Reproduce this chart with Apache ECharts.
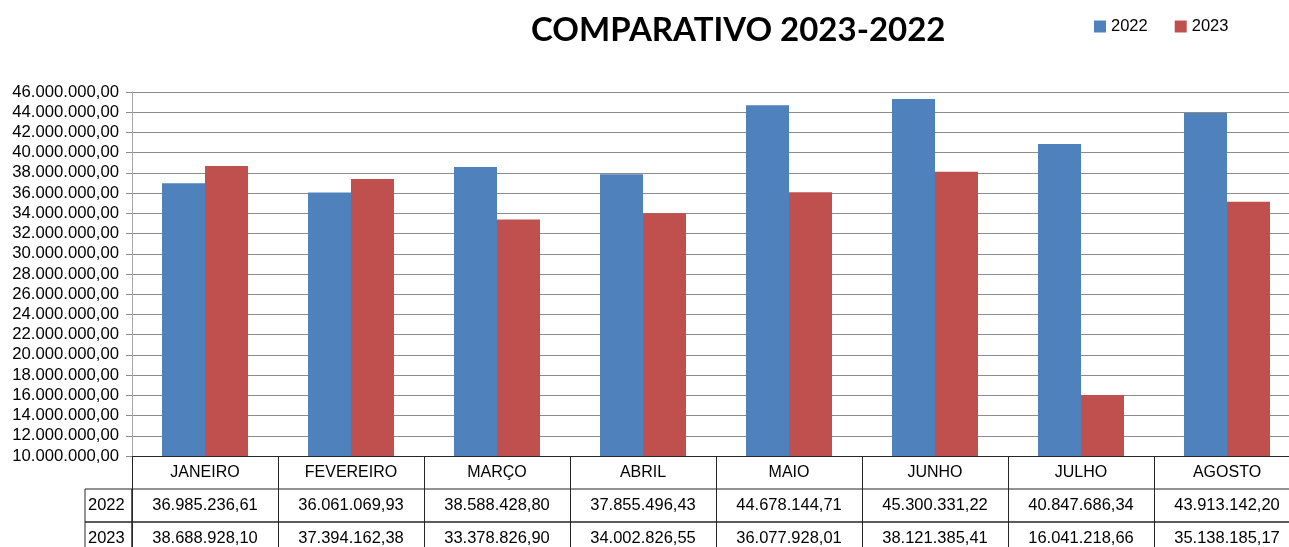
<!DOCTYPE html>
<html lang="pt">
<head>
    <meta charset="UTF-8">
    <title>COMPARATIVO 2023-2022</title>
    <script src="https://cdn.jsdelivr.net/npm/echarts@6/dist/echarts.min.js"></script>
    <style>
        html, body { margin: 0; padding: 0; overflow: hidden; background: #fff; }
        #chart { width: 1300px; height: 570px; }
    </style>
</head>
<body>
    <div id="chart"></div>
    <script>
        // dados
        var meses = ['JANEIRO', 'FEVEREIRO', 'MARÇO', 'ABRIL', 'MAIO', 'JUNHO', 'JULHO', 'AGOSTO'];
        var anos = ['2022', '2023'];
        var v2022 = [36985236.61, 36061069.93, 38588428.80, 37855496.43, 44678144.71, 45300331.22, 40847686.34, 43913142.20];
        var v2023 = [38688928.10, 37394162.38, 33378826.90, 34002826.55, 36077928.01, 38121385.41, 16041218.66, 35138185.17];

        // formato 1.234.567,89
        function fmt(n) {
            var p = n.toFixed(2).split('.');
            return p[0].replace(/\B(?=(\d{3})+(?!\d))/g, '.') + ',' + p[1];
        }

        var linha = '#262626';
        var fonte = 'Liberation Sans, Arial, sans-serif';

        // linhas da tabela (uma grade por linha)
        function gradeValores(top) {
            return { left: 132, top: top, width: 1168, height: 33, show: true, borderColor: linha, borderWidth: 1 };
        }
        function gradeRotulo(top) {
            return { left: 85, top: top, width: 47, height: 33, show: true, borderColor: linha, borderWidth: 1 };
        }
        function eixoValores(idx, valores) {
            return {
                gridIndex: idx,
                type: 'category',
                position: 'top',
                data: valores.map(fmt),
                axisLine: { show: false },
                axisTick: { show: false },
                splitLine: { show: true, interval: 0, lineStyle: { color: linha } },
                axisLabel: { inside: true, interval: 0, margin: 8, fontSize: 16.5, color: '#000' }
            };
        }
        function eixoRotulo(idx, ano) {
            return {
                gridIndex: idx, type: 'category', data: [ano],
                axisLine: { show: false }, axisTick: { show: false },
                axisLabel: { inside: true, margin: 3, fontSize: 16.5, color: '#000' }
            };
        }

        var myChart = echarts.init(document.getElementById('chart'));
        var option = {
            animation: false,
            textStyle: { fontFamily: fonte },
            title: {
                text: 'COMPARATIVO 2023-2022',
                left: 526,
                top: 9,
                textStyle: { fontFamily: 'Lato', fontWeight: 'bold', fontSize: 33, color: '#000' }
            },
            legend: {
                data: anos,
                left: 1094,
                top: 18,
                padding: 0,
                itemWidth: 12,
                itemHeight: 12,
                itemGap: 27,
                icon: 'rect',
                textStyle: { fontSize: 16.5, color: '#000' }
            },
            color: ['#4F81BD', '#C0504D'],
            grid: [
                { left: 132, top: 92, width: 1168, height: 364 },
                gradeValores(489),
                gradeValores(522),
                gradeRotulo(489),
                gradeRotulo(522)
            ],
            xAxis: [
                {
                    gridIndex: 0,
                    type: 'category',
                    data: meses,
                    axisLine: { lineStyle: { color: linha } },
                    axisTick: { show: true, length: 33, interval: 0, alignWithLabel: false, lineStyle: { color: linha } },
                    axisLabel: { interval: 0, margin: 9, fontSize: 16, color: '#000' }
                },
                eixoValores(1, v2022),
                eixoValores(2, v2023),
                { gridIndex: 3, type: 'value', show: false },
                { gridIndex: 4, type: 'value', show: false }
            ],
            yAxis: [
                {
                    gridIndex: 0,
                    type: 'value',
                    min: 10000000,
                    max: 46000000,
                    interval: 2000000,
                    axisLine: { show: true, lineStyle: { color: '#a6a6a6' } },
                    axisTick: { show: true, length: 6, lineStyle: { color: '#8c8c8c' } },
                    axisLabel: { margin: 13, fontSize: 16.7, color: '#000', formatter: function (v) { return fmt(v); } },
                    splitLine: { lineStyle: { color: '#8c8c8c' } }
                },
                { gridIndex: 1, type: 'category', show: false, data: [''] },
                { gridIndex: 2, type: 'category', show: false, data: [''] },
                eixoRotulo(3, anos[0]),
                eixoRotulo(4, anos[1])
            ],
            series: [
                { name: anos[0], type: 'bar', xAxisIndex: 0, yAxisIndex: 0, data: v2022, barWidth: 43, barGap: '0%' },
                { name: anos[1], type: 'bar', xAxisIndex: 0, yAxisIndex: 0, data: v2023, barWidth: 43, barGap: '0%' }
            ]
        };
        myChart.setOption(option);
    </script>
</body>
</html>
